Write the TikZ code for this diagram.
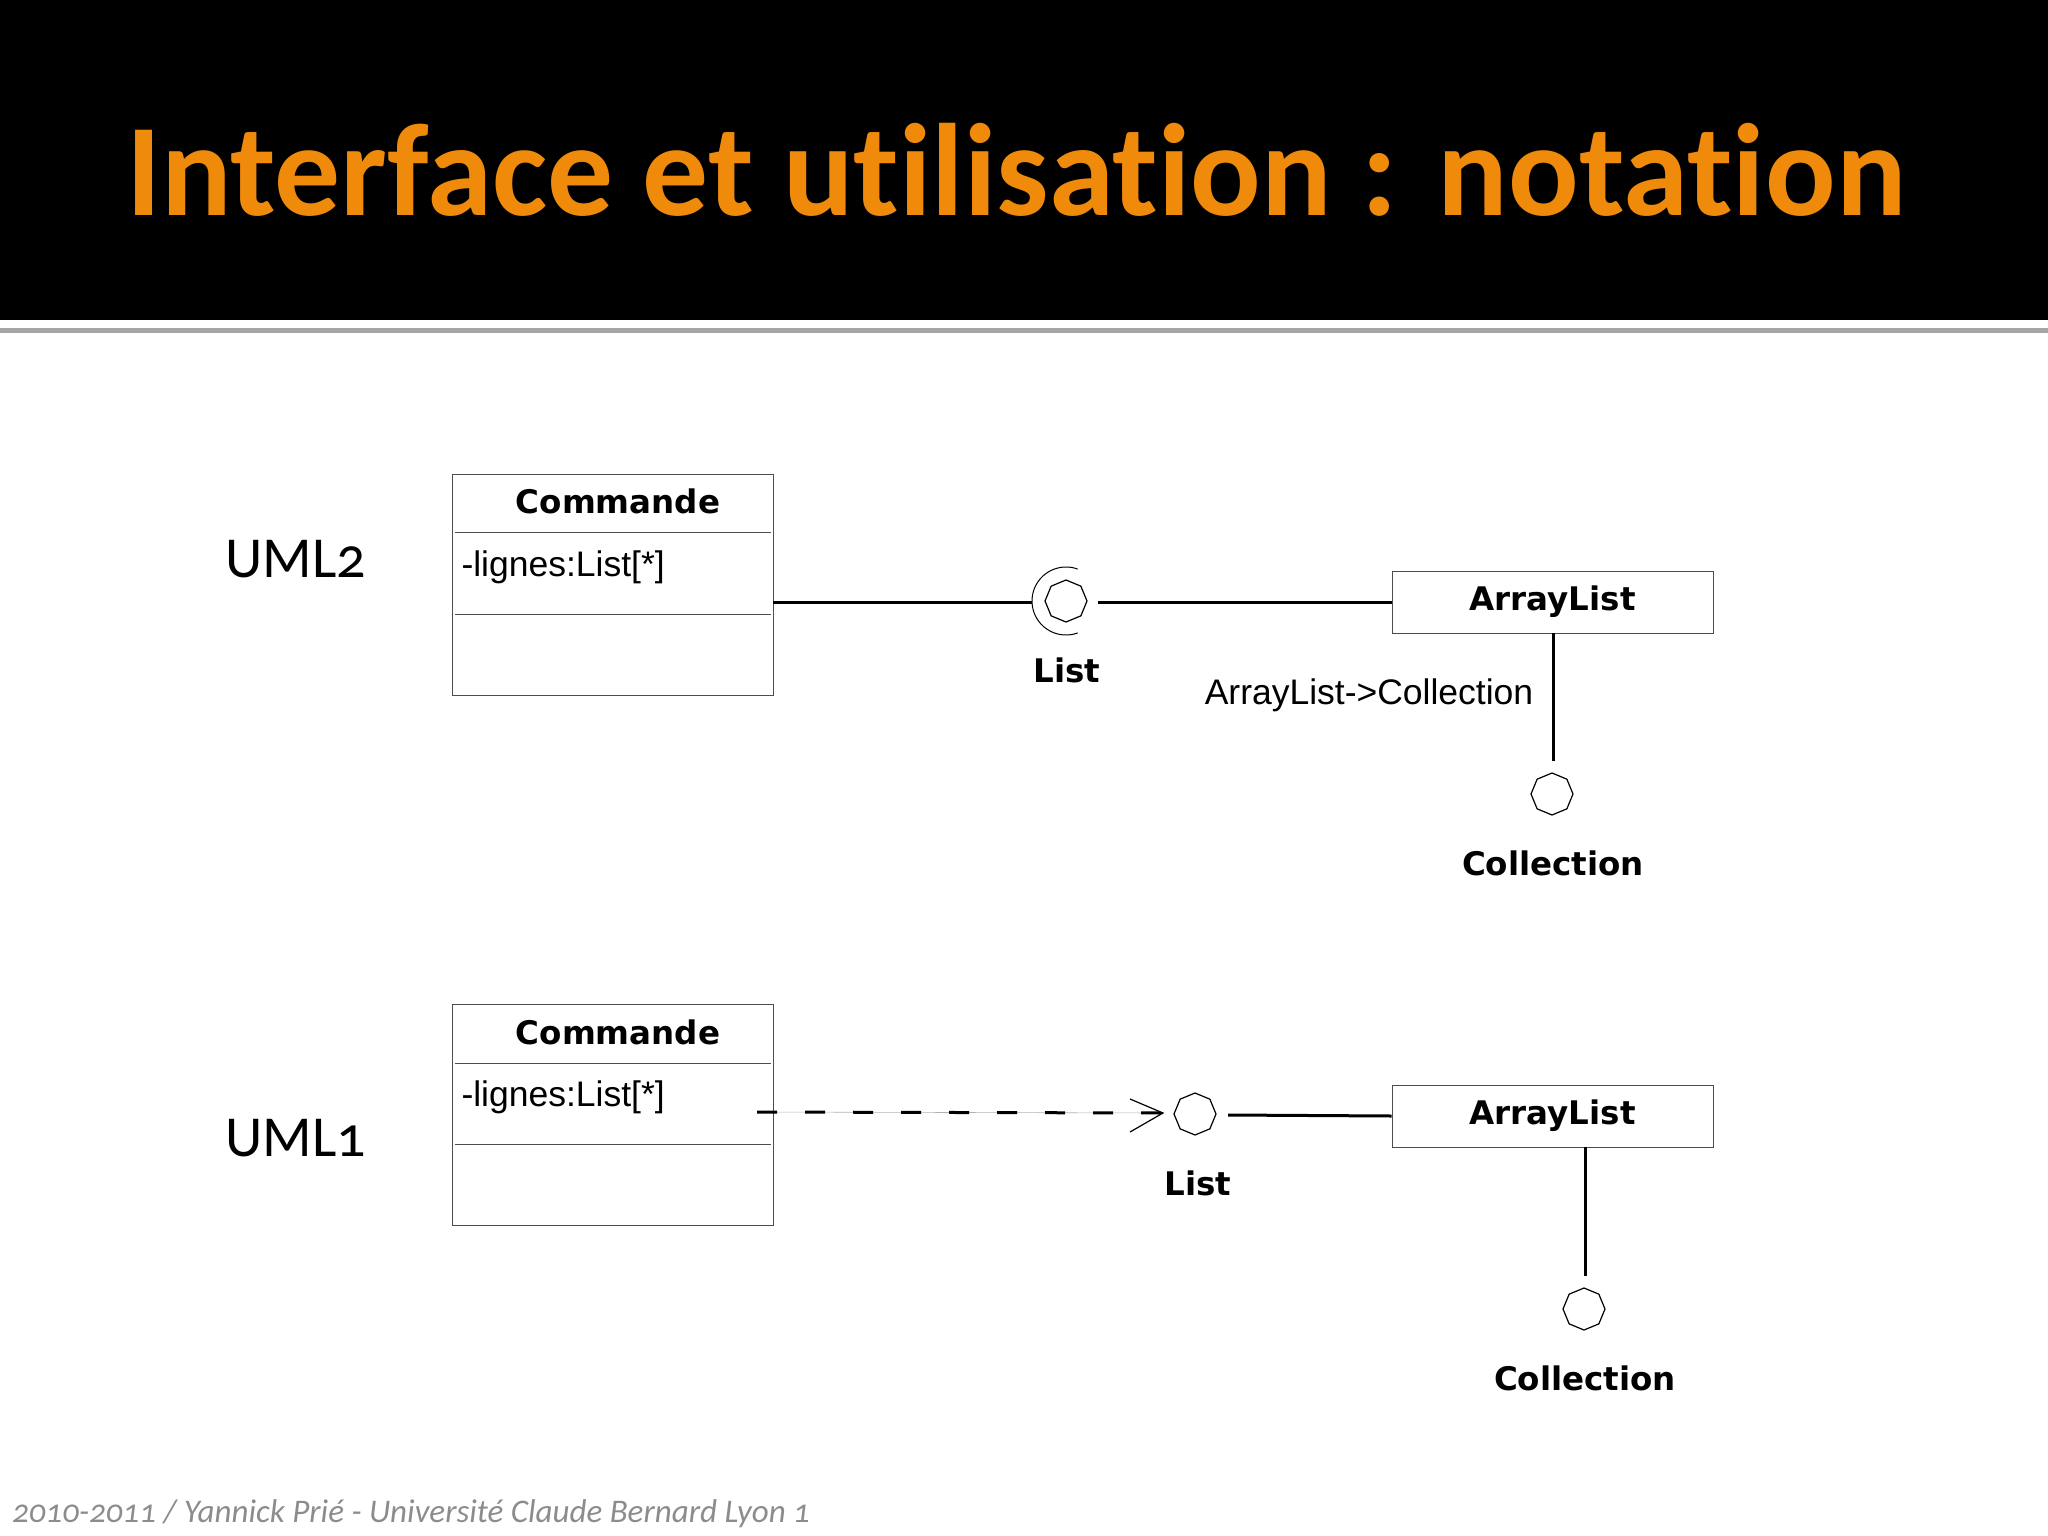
\documentclass[tikz,border=0pt]{standalone}
\usepackage{fontspec}
\setmainfont{Liberation Sans}
\newfontfamily\carl[Ligatures=NoCommon]{Carlito}
\newfontfamily\carlo[Numbers=OldStyle]{Carlito}
\newfontfamily\dvs{DejaVu Sans}
\usetikzlibrary{shapes.geometric}
\definecolor{ttl}{HTML}{F08A0A}
\begin{document}
\begin{tikzpicture}[x=1pt,y=-1pt,
  oct/.style={draw,regular polygon,regular polygon sides=8,minimum size=42pt,inner sep=0pt,line width=1.2pt,shape border rotate=22.5},
  box/.style={draw=black!70,line width=1pt},
  wire/.style={line width=3pt},
  lbl/.style={font=\dvs\fontsize{32.5}{38}\selectfont\bfseries},
  ttxt/.style={font=\fontsize{35.5}{40}\selectfont}]
\useasboundingbox (0,0) rectangle (2048,1536);
\fill[black] (0,0) rectangle (2048,320);
\fill[black!35] (0,328) rectangle (2048,333);
\node[anchor=base west,text=ttl,font=\carl\bfseries\fontsize{131.5}{140}\selectfont,inner sep=0] (title) at (126,215) {Interface et utilisation : notation};
% UML2
\node[font=\carlo\fontsize{58}{64}\selectfont] (u2) at (296,559) {UML2};
\draw[box] (452,474) rectangle (773,695);
\draw[box] (455,532) -- (771,532) (455,614) -- (771,614);
\node[lbl] (c1) at (618,501) {Commande};
\node[ttxt,anchor=west] (a1) at (458,567) {-lignes:List[*]};
\node[oct] (o1) at (1066,601) {};
\draw[line width=1pt] (1066,601) ++(70:34) arc (70:290:34);
\coordinate (s1) at (1032,602);
\node[box,minimum width=321pt,minimum height=62pt,inner sep=0] (al1) at (1552.5,602) {};
\node[lbl] at (al1) {ArrayList};
\draw[wire] (773,602) -- (s1);
\draw[wire] (1098,602) -- (al1.west);
\node[lbl] (l1) at (1067,670) {List};
\node[ttxt] (ac) at (1369,695) {ArrayList->Collection};
\node[oct] (o2) at (1552,794) {};
\draw[wire] (1553,633) -- (1553,761);
\node[lbl] (col1) at (1553,863) {Collection};
% UML1
\node[font=\carlo\fontsize{58}{64}\selectfont] (u1) at (296,1138) {UML1};
\draw[box] (452,1004) rectangle (773,1225);
\draw[box] (455,1063) -- (771,1063) (455,1144) -- (771,1144);
\node[lbl] (c2) at (618,1032) {Commande};
\node[ttxt,anchor=west] (a2) at (458,1097) {-lignes:List[*]};
\node[oct] (o3) at (1195,1114) {};
\coordinate (d0) at (757,1112);
\coordinate (tip) at (1163,1113);
\draw[black!30,line width=0.6pt] (d0) -- (tip);
\draw[wire,dash pattern=on 20pt off 28pt] (d0) -- (tip);
\draw[line width=1.2pt] (1130,1099) -- (tip) -- (1130,1132);
\node[box,minimum width=321pt,minimum height=62pt,inner sep=0] (al2) at (1552.5,1116) {};
\node[lbl] at (al2) {ArrayList};
\draw[wire] (1228,1115) -- (al2.west);
\node[lbl] (l2) at (1198,1183) {List};
\node[oct] (o4) at (1584,1309) {};
\draw[wire] (1585,1147) -- (1585,1276);
\node[lbl] (col2) at (1585,1378) {Collection};
\node[anchor=base west,text=black!45,font=\carlo\itshape\fontsize{33}{36}\selectfont,inner sep=0] (ft) at (12,1522) {2010-2011 / Yannick Prié - Université Claude Bernard Lyon 1};
\end{tikzpicture}
\end{document}
